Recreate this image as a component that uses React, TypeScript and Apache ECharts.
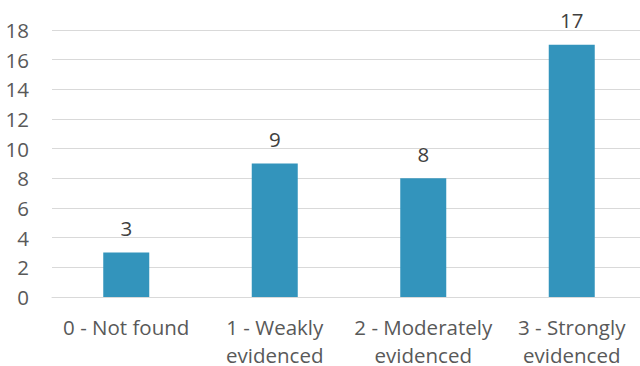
import React, { useEffect, useRef } from "react";
import * as echarts from "echarts";

const categories = ["0 - Not found", "1 - Weakly\nevidenced", "2 - Moderately\nevidenced", "3 - Strongly\nevidenced"];
const values = [3, 9, 8, 17];
const yTicks = { min: 0, max: 18, interval: 2 };

export default function App() {
  const ref = useRef<HTMLDivElement>(null);
  useEffect(() => {
    const chart = echarts.init(ref.current!, null, { renderer: "svg" });
    const font = "'Open Sans', sans-serif";
    const fs = 20.5;
    chart.setOption({
      animation: false,
      grid: { left: 52, right: -6, top: 30, bottom: 69, containLabel: false, outerBoundsMode: "none" },
      xAxis: {
        type: "category",
        data: categories,
        axisTick: { show: false },
        axisLine: { show: true, lineStyle: { color: "#d9d9d9", width: 1 } },
        axisLabel: { color: "#595959", fontSize: fs, fontFamily: font, margin: 16, lineHeight: 28, interval: 0 },
      },
      yAxis: {
        type: "value",
        min: yTicks.min,
        max: yTicks.max,
        interval: yTicks.interval,
        axisLine: { show: false },
        axisTick: { show: false },
        splitLine: { lineStyle: { color: "#d9d9d9", width: 1 } },
        axisLabel: { color: "#595959", fontSize: fs, fontFamily: font, margin: 23 },
      },
      series: [
        {
          type: "bar",
          data: values,
          barWidth: 46,
          itemStyle: { color: "#3394BC" },
          label: { show: true, position: "top", distance: 14, color: "#404040", fontSize: fs, fontFamily: font },
        },
      ],
    });
    return () => chart.dispose();
  }, []);
  return <div ref={ref} style={{ width: 640, height: 366, position: "absolute", left: 0, top: 0, background: "#fff" }} />;
}
